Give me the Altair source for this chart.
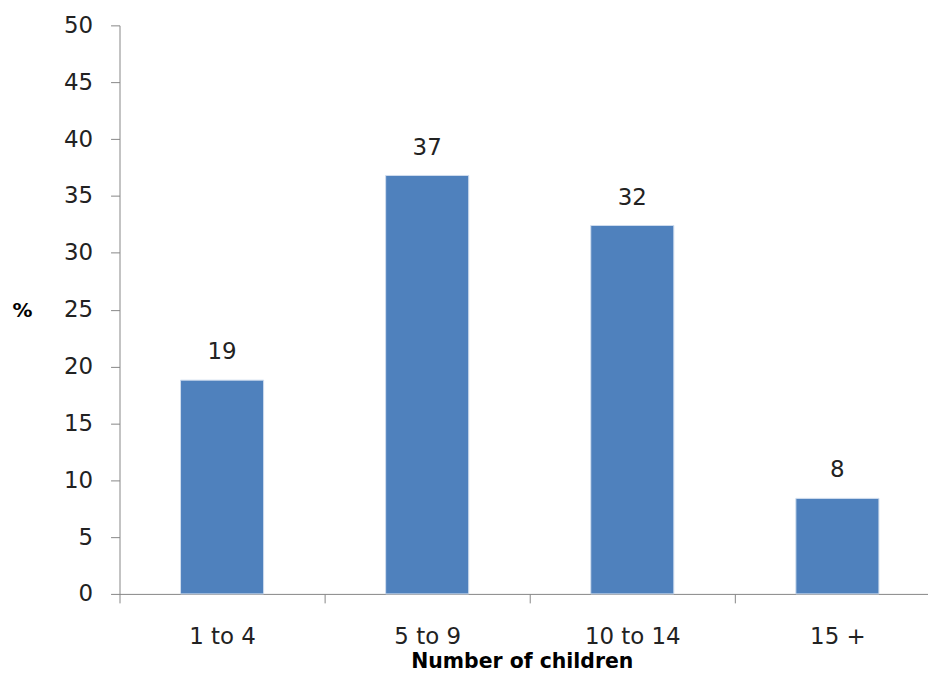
import altair as alt
import pandas as pd

categories = ["1 to 4", "5 to 9", "10 to 14", "15 +"]
values = [18.8, 36.8, 32.4, 8.4]
labels = ["19", "37", "32", "8"]

df = pd.DataFrame({"cat": categories, "pct": values, "label": labels})

FONT = "DejaVu Sans"
AX = "#868686"

x = alt.X("cat:N", sort=categories,
          scale=alt.Scale(paddingInner=0, paddingOuter=0, range=[0, 824]),
          axis=alt.Axis(title="Number of children", labelAngle=0, tickBand="extent",
                        labelFontSize=23, labelFont=FONT, labelColor="#222222",
                        labelPadding=23, tickSize=9, tickColor=AX, domainColor=AX,
                        titleFont=FONT, titleFontSize=20.5, titleFontWeight="bold",
                        titleColor="#000000", titlePadding=3, titleX=404))
y = alt.Y("pct:Q", scale=alt.Scale(domain=[0, 50], nice=False),
          axis=alt.Axis(title="%", values=list(range(0, 51, 5)), grid=False,
                        labelFontSize=23, labelFont=FONT, labelColor="#222222",
                        labelPadding=18, tickSize=9, tickColor=AX, domainColor=AX,
                        titleAngle=0, titleX=-98, titleY=286, titleAlign="center",
                        titleBaseline="middle", titleFont=FONT, titleFontSize=20,
                        titleFontWeight="bold", titleColor="#000000"))

bars = alt.Chart(df).mark_bar(color="#4F81BD", stroke="#D0DDEE", strokeWidth=1,
                              width=alt.RelativeBandSize(0.405)).encode(x=x, y=y)
text = alt.Chart(df).mark_text(baseline="bottom", dy=-16, font=FONT, fontSize=23,
                               color="#222222").encode(x=x, y=y, text="label:N")

chart = (bars + text).properties(
    width=812, height=571,
    autosize=alt.AutoSizeParams(type="none"),
    padding={"left": 112, "top": 16, "right": 0, "bottom": 80},
).configure_view(stroke=None)

chart.save("out.html", embed_options={"renderer": "svg", "actions": False})
